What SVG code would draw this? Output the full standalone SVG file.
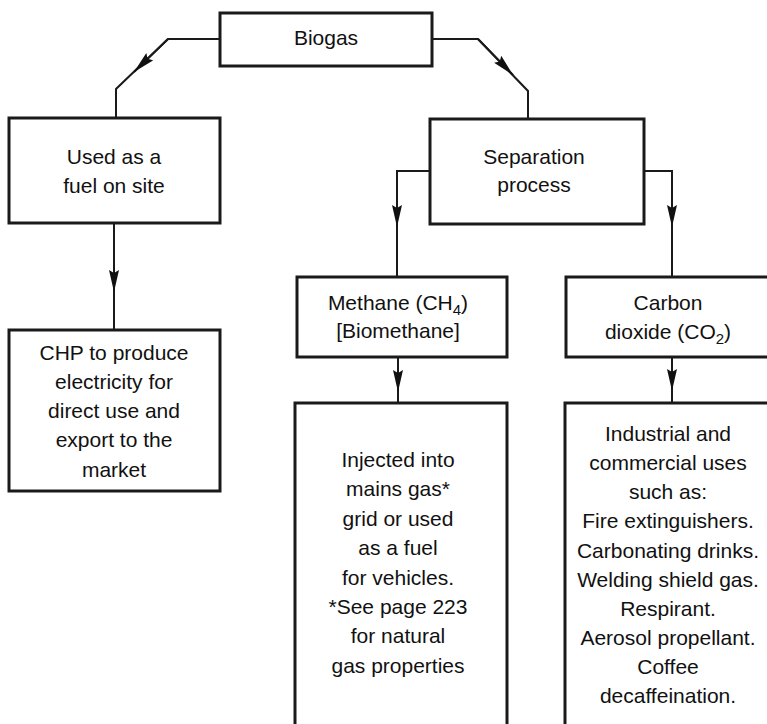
<svg xmlns="http://www.w3.org/2000/svg" width="767" height="724" viewBox="0 0 767 724">
<defs>
<style>
.box{fill:#fff;stroke:#1a1a1a;stroke-width:3}
.ln{fill:none;stroke:#1a1a1a;stroke-width:2}
text{font-family:"Liberation Sans",Arial,sans-serif;font-size:21px;fill:#111;text-anchor:middle}
.sub{font-size:15px}
</style>
<marker id="ah" markerUnits="userSpaceOnUse" markerWidth="24" markerHeight="12" refX="22" refY="5" orient="auto">
<path d="M0,0 L22,5 L0,10 L3,5 Z" fill="#111"/>
</marker>
</defs>
<rect width="767" height="724" fill="#fff"/>
<g id="connectors">
<path class="ln" d="M220,39 L168,39 L116,89 L116,118"/>
<path class="ln" d="M168,39 L134,72" marker-end="url(#ah)"/>
<path class="ln" d="M432,39 L478,39 L528,91 L528,118"/>
<path class="ln" d="M478,39 L513,75" marker-end="url(#ah)"/>
<path class="ln" d="M114,223 L114,330"/>
<path class="ln" d="M114,223 L114,292" marker-end="url(#ah)"/>
<path class="ln" d="M430,171 L397,171 L397,277"/>
<path class="ln" d="M397,171 L397,227" marker-end="url(#ah)"/>
<path class="ln" d="M644,171 L672,171 L672,277"/>
<path class="ln" d="M672,171 L672,227" marker-end="url(#ah)"/>
<path class="ln" d="M398,357 L398,403"/>
<path class="ln" d="M398,357 L398,392" marker-end="url(#ah)"/>
<path class="ln" d="M672,357 L672,403"/>
<path class="ln" d="M672,357 L672,391" marker-end="url(#ah)"/>
</g>
<g id="biogas">
<rect class="box" x="220" y="13" width="212" height="53"/>
<text x="326" y="45">Biogas</text>
</g>
<g id="used-on-site">
<rect class="box" x="9" y="118" width="211" height="105"/>
<text x="114" y="164">Used as a</text>
<text x="114" y="193">fuel on site</text>
</g>
<g id="chp">
<rect class="box" x="9" y="330" width="211" height="161"/>
<text x="114" y="360">CHP to produce</text>
<text x="114" y="389">electricity for</text>
<text x="114" y="418">direct use and</text>
<text x="114" y="447">export to the</text>
<text x="114" y="477">market</text>
</g>
<g id="separation">
<rect class="box" x="430" y="119" width="214" height="105"/>
<text x="534" y="164">Separation</text>
<text x="534" y="192">process</text>
</g>
<g id="methane">
<rect class="box" x="297" y="277" width="210" height="80"/>
<text x="398" y="310">Methane (CH<tspan class="sub" dy="5">4</tspan><tspan dy="-5">)</tspan></text>
<text x="398" y="338">[Biomethane]</text>
</g>
<g id="co2">
<rect class="box" x="566" y="277" width="240" height="80"/>
<text x="668" y="310">Carbon</text>
<text x="668" y="339">dioxide (CO<tspan class="sub" dy="5">2</tspan><tspan dy="-5">)</tspan></text>
</g>
<g id="injected">
<rect class="box" x="295" y="403" width="212" height="400"/>
<text x="398" y="467">Injected into</text>
<text x="398" y="496">mains gas*</text>
<text x="398" y="526">grid or used</text>
<text x="398" y="555">as a fuel</text>
<text x="398" y="585">for vehicles.</text>
<text x="398" y="614">*See page 223</text>
<text x="398" y="643">for natural</text>
<text x="398" y="673">gas properties</text>
</g>
<g id="industrial">
<rect class="box" x="565" y="403" width="240" height="400"/>
<text x="668" y="441">Industrial and</text>
<text x="668" y="470">commercial uses</text>
<text x="668" y="499">such as:</text>
<text x="668" y="528">Fire extinguishers.</text>
<text x="668" y="558">Carbonating drinks.</text>
<text x="668" y="587">Welding shield gas.</text>
<text x="668" y="616">Respirant.</text>
<text x="668" y="645">Aerosol propellant.</text>
<text x="668" y="674">Coffee</text>
<text x="668" y="703">decaffeination.</text>
</g>
</svg>
